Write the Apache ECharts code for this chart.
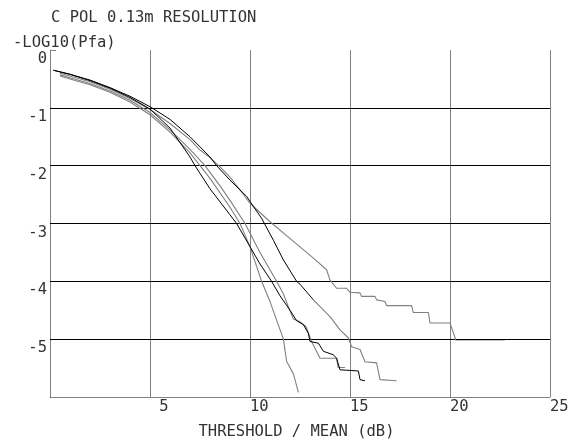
<!DOCTYPE html>
<html>
<head>
<meta charset="utf-8">
<script src="https://cdn.jsdelivr.net/npm/echarts@6/dist/echarts.min.js"></script>
<style>
html,body{margin:0;padding:0;background:#fff;}
#chart{width:575px;height:441px;}
</style>
</head>
<body>
<div id="chart"></div>
<script>
// ---- data (threshold/mean dB, -log10(Pfa)) ----
const titleText = 'C POL 0.13m RESOLUTION';
const yAxisTitle = '-LOG10(Pfa)';
const xAxisTitle = 'THRESHOLD / MEAN (dB)';
const xTicks = [0, 5, 10, 15, 20, 25];
const yTicks = [-6, -5, -4, -3, -2, -1, 0];
const yGridLevels = [-5, -4, -3, -2, -1];

const curveA = [[0.5,-0.45],[1,-0.5],[2,-0.6],[3,-0.73],[4,-0.9],[5,-1.12],[6,-1.42],[7,-1.78],[7.5,-2.0],[8,-2.22],[9,-2.72],[9.5,-3.0],[10,-3.4],[10.58,-4.0],[11,-4.35],[11.67,-5.0],[11.83,-5.38],[12.17,-5.6],[12.42,-5.92]];
const curveB = [[0.17,-0.35],[1,-0.42],[2,-0.53],[3,-0.66],[4,-0.82],[5,-1.02],[6,-1.35],[7,-1.85],[7.25,-2.0],[8,-2.4],[9,-2.85],[9.33,-3.0],[10,-3.4],[10.5,-3.7],[11.08,-4.0],[11.5,-4.25],[12,-4.5],[12.33,-4.68],[12.67,-4.75],[12.92,-4.9],[13,-5.04],[13.42,-5.07],[13.67,-5.21],[14.17,-5.27],[14.33,-5.33],[14.5,-5.53],[15.42,-5.55],[15.5,-5.7],[15.75,-5.72]];
const curveC = [[0.5,-0.43],[1,-0.48],[2,-0.58],[3,-0.71],[4,-0.87],[5,-1.08],[6,-1.38],[7,-1.72],[7.75,-2.0],[8.5,-2.35],[9,-2.6],[9.75,-3.0],[10.5,-3.5],[11.33,-4.0],[11.67,-4.22],[11.92,-4.44],[12.17,-4.65],[12.5,-4.7],[12.8,-4.78],[13.08,-5.04],[13.5,-5.33],[14.33,-5.33],[14.4,-5.49],[14.75,-5.49]];
const curveDUpper = [[0.17,-0.35],[1,-0.42],[2,-0.52],[3,-0.65],[4,-0.8],[5,-0.98],[6,-1.2],[7,-1.5],[8,-1.85],[8.33,-2.0],[9,-2.25],[9.5,-2.42],[9.83,-2.53],[10,-2.62],[10.58,-2.91],[11.17,-3.29],[11.67,-3.63],[12.33,-4.0],[12.5,-4.05],[13.17,-4.32]];
const curveDLower = [[13.17,-4.32],[14,-4.61],[14.5,-4.84],[14.92,-4.98],[15.08,-5.13],[15.5,-5.18],[15.75,-5.39],[16.33,-5.41],[16.5,-5.7],[17.33,-5.72]];
const curveE = [[0.5,-0.4],[1,-0.45],[2,-0.55],[3,-0.68],[4,-0.84],[5,-1.03],[6,-1.27],[7,-1.55],[7.5,-1.73],[8,-1.86],[8.5,-2.02],[9,-2.2],[9.5,-2.42],[10,-2.65],[11,-2.97],[12.17,-3.31],[13.17,-3.6],[13.83,-3.8],[14,-3.98],[14.33,-4.12],[14.83,-4.12],[15,-4.19],[15.5,-4.2],[15.58,-4.26],[16.25,-4.26],[16.33,-4.32],[16.75,-4.35],[16.83,-4.42],[18.08,-4.42],[18.17,-4.54],[18.92,-4.54],[19,-4.72],[20,-4.72],[20.08,-4.74],[20.3,-5.02]];
const curveETail = [[20.3,-5.01],[22.75,-5.01]];

// ---- chart ----
const FONT = 'DejaVu Sans Mono';
const GRAY = '#808080';
const DARK = '#000000';
const txt = '#333333';
const FS = 15.5;

function line(name, data, color, width) {
  return { name, type: 'line', data, showSymbol: false, symbol: 'none', smooth: false,
    lineStyle: { color, width: width || 1 }, itemStyle: { color }, animation: false, z: 3 };
}

const series = [
  line('E', curveE, GRAY, 1.1),
  line('D2', curveDLower, GRAY, 1.1),
  line('C', curveC, GRAY, 1.1),
  line('A', curveA, GRAY, 1.1),
  line('B', curveB, DARK, 1),
  line('D1', curveDUpper, DARK, 1),
  line('E tail', curveETail, DARK, 1)
];
// horizontal grid lines at the labelled levels (no line at the top edge)
series[0].markLine = {
  silent: true, symbol: 'none', animation: false, z: 2,
  label: { show: false },
  lineStyle: { color: DARK, width: 1, type: 'solid' },
  emphasis: { disabled: true },
  data: yGridLevels.map(v => ({ yAxis: v }))
};

const chart = echarts.init(document.getElementById('chart'), null, { renderer: 'canvas' });
chart.setOption({
  animation: false,
  backgroundColor: '#ffffff',
  title: [
    { text: titleText, left: 46, top: 5, textStyle: { fontFamily: FONT, fontSize: FS, fontWeight: 'normal', color: txt } },
    { text: yAxisTitle, left: 8, top: 30, textStyle: { fontFamily: FONT, fontSize: FS, fontWeight: 'normal', color: txt } }
  ],
  grid: { left: 50, right: 25, top: 50, bottom: 44, containLabel: false, outerBoundsMode: 'none' },
  xAxis: {
    type: 'value', min: xTicks[0], max: xTicks[xTicks.length - 1], interval: 5,
    name: xAxisTitle, nameLocation: 'middle', nameGap: 27,
    nameTextStyle: { fontFamily: FONT, fontSize: FS, color: txt, padding: [0, 7, 0, 0] },
    axisLine: { show: true, onZero: false, lineStyle: { color: GRAY, width: 1 } },
    axisTick: { show: false },
    axisLabel: { fontFamily: FONT, fontSize: FS, color: txt, align: 'left', margin: 2, verticalAlign: 'top',
      formatter: v => (v === 0 ? '' : (String(v).length < 2 ? ' ' + v : String(v))) },
    splitLine: { show: true, lineStyle: { color: GRAY, width: 1 } }
  },
  yAxis: {
    type: 'value', min: yTicks[0], max: yTicks[yTicks.length - 1], interval: 1,
    axisLine: { show: true, onZero: false, lineStyle: { color: GRAY, width: 1 } },
    axisTick: { show: true, inside: true, length: 6, lineStyle: { color: GRAY } },
    axisLabel: { fontFamily: FONT, fontSize: FS, color: txt, margin: 3, verticalAlign: 'top',
      padding: [1, 0, 0, 0],
      formatter: v => (v === yTicks[0] ? '' : String(v)) },
    splitLine: { show: false }
  },
  series
});
</script>
</body>
</html>
